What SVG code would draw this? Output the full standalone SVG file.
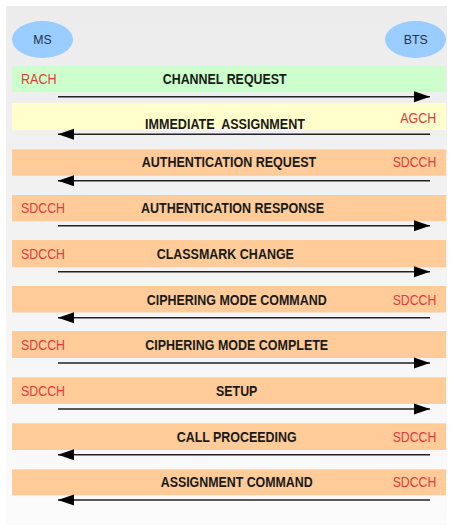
<svg xmlns="http://www.w3.org/2000/svg" width="454" height="531" viewBox="0 0 454 531">
<defs>
<linearGradient id="bg" x1="0" y1="0" x2="0" y2="1">
<stop offset="0" stop-color="#ececec"/>
<stop offset="1" stop-color="#fbfbfb"/>
</linearGradient>
<marker id="ah" markerUnits="userSpaceOnUse" markerWidth="17" markerHeight="12" refX="16" refY="6" orient="auto">
<path d="M0,0.5 L16,6 L0,11.5 z" fill="#000"/>
</marker>
<style>
.band-g{fill:#ccffcc}
.band-y{fill:#ffffcc}
.band-o{fill:#ffcc99}
.msg{font-family:"Liberation Sans",Arial,sans-serif;font-weight:bold;font-size:14px;fill:#1a1a1a;text-anchor:middle}
.ch{font-family:"Liberation Sans",Arial,sans-serif;font-size:14px;fill:#e03a3a}
.ent{fill:#99ccff}
.entt{font-family:"Liberation Sans",Arial,sans-serif;font-size:13px;fill:#25324a;text-anchor:middle}
.arr{stroke:#222;stroke-width:1.4;fill:none;marker-end:url(#ah)}
</style>
</defs>
<rect x="0" y="0" width="454" height="531" fill="#ffffff"/>
<rect x="6" y="6" width="441" height="519" fill="url(#bg)"/>

<g id="MS">
<ellipse class="ent" cx="42.5" cy="39.5" rx="30.5" ry="18.5"/>
<text class="entt" x="42.5" y="44.3" textLength="18.4" lengthAdjust="spacingAndGlyphs">MS</text>
</g>
<g id="BTS">
<ellipse class="ent" cx="415.5" cy="39.5" rx="30.5" ry="18.5"/>
<text class="entt" x="415.7" y="44.3" textLength="24" lengthAdjust="spacingAndGlyphs">BTS</text>
</g>

<g id="msg-channel-request">
<rect class="band-g" x="12" y="66" width="434" height="26"/>
<text class="ch" x="21" y="84" textLength="35.7" lengthAdjust="spacingAndGlyphs">RACH</text>
<text class="msg" x="224.7" y="84" textLength="124" lengthAdjust="spacingAndGlyphs">CHANNEL REQUEST</text>
</g>
<g id="msg-immediate-assignment">
<rect class="band-y" x="12" y="103" width="434" height="27"/>
<text class="ch" x="400.3" y="122.7" textLength="36" lengthAdjust="spacingAndGlyphs">AGCH</text>
<text class="msg" x="225" y="129" textLength="160" lengthAdjust="spacingAndGlyphs" xml:space="preserve">IMMEDIATE  ASSIGNMENT</text>
</g>
<g id="msg-authentication-request">
<rect class="band-o" x="12" y="149.3" width="434" height="26.5"/>
<text class="ch" x="392.7" y="167.3" textLength="43.6" lengthAdjust="spacingAndGlyphs">SDCCH</text>
<text class="msg" x="229" y="167.3" textLength="174.6" lengthAdjust="spacingAndGlyphs">AUTHENTICATION REQUEST</text>
</g>
<g id="msg-authentication-response">
<rect class="band-o" x="12" y="195" width="434" height="26.3"/>
<text class="ch" x="21" y="213.3" textLength="44" lengthAdjust="spacingAndGlyphs">SDCCH</text>
<text class="msg" x="232.5" y="213.3" textLength="183" lengthAdjust="spacingAndGlyphs">AUTHENTICATION RESPONSE</text>
</g>
<g id="msg-classmark-change">
<rect class="band-o" x="12" y="240" width="434" height="27.3"/>
<text class="ch" x="21" y="259" textLength="44" lengthAdjust="spacingAndGlyphs">SDCCH</text>
<text class="msg" x="225.3" y="259" textLength="137.3" lengthAdjust="spacingAndGlyphs">CLASSMARK CHANGE</text>
</g>
<g id="msg-ciphering-mode-command">
<rect class="band-o" x="12" y="286" width="434" height="26.5"/>
<text class="ch" x="392.7" y="305" textLength="43.6" lengthAdjust="spacingAndGlyphs">SDCCH</text>
<text class="msg" x="236.7" y="305" textLength="180" lengthAdjust="spacingAndGlyphs">CIPHERING MODE COMMAND</text>
</g>
<g id="msg-ciphering-mode-complete">
<rect class="band-o" x="12" y="331" width="434" height="27"/>
<text class="ch" x="21" y="349.5" textLength="44" lengthAdjust="spacingAndGlyphs">SDCCH</text>
<text class="msg" x="236.7" y="349.5" textLength="183" lengthAdjust="spacingAndGlyphs">CIPHERING MODE COMPLETE</text>
</g>
<g id="msg-setup">
<rect class="band-o" x="12" y="377.3" width="434" height="26.7"/>
<text class="ch" x="21" y="395.7" textLength="44" lengthAdjust="spacingAndGlyphs">SDCCH</text>
<text class="msg" x="236.7" y="395.7" textLength="41.3" lengthAdjust="spacingAndGlyphs">SETUP</text>
</g>
<g id="msg-call-proceeding">
<rect class="band-o" x="12" y="423.3" width="434" height="26.7"/>
<text class="ch" x="392.7" y="441.7" textLength="43.6" lengthAdjust="spacingAndGlyphs">SDCCH</text>
<text class="msg" x="236.7" y="441.7" textLength="120" lengthAdjust="spacingAndGlyphs">CALL PROCEEDING</text>
</g>
<g id="msg-assignment-command">
<rect class="band-o" x="12" y="469.3" width="434" height="26"/>
<text class="ch" x="392.7" y="486.7" textLength="43.6" lengthAdjust="spacingAndGlyphs">SDCCH</text>
<text class="msg" x="236.7" y="486.7" textLength="152" lengthAdjust="spacingAndGlyphs">ASSIGNMENT COMMAND</text>
</g>

<g id="connectors">
<line class="arr" x1="58" y1="96.7" x2="430" y2="96.7"/>
<line class="arr" x1="430" y1="134.3" x2="58" y2="134.3"/>
<line class="arr" x1="430" y1="180.7" x2="58" y2="180.7"/>
<line class="arr" x1="58" y1="225.7" x2="430" y2="225.7"/>
<line class="arr" x1="58" y1="271.7" x2="430" y2="271.7"/>
<line class="arr" x1="430" y1="317.7" x2="58" y2="317.7"/>
<line class="arr" x1="58" y1="363" x2="430" y2="363"/>
<line class="arr" x1="58" y1="409" x2="430" y2="409"/>
<line class="arr" x1="430" y1="454.7" x2="58" y2="454.7"/>
<line class="arr" x1="430" y1="500" x2="58" y2="500"/>
</g>
</svg>
